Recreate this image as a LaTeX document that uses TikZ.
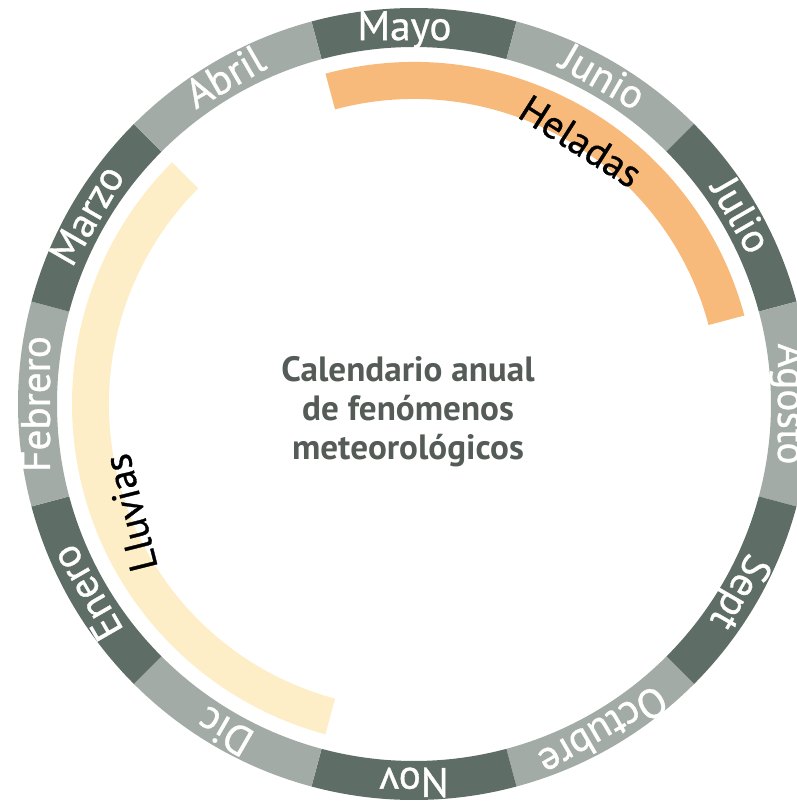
\documentclass[tikz,border=0pt]{standalone}
\usepackage{fontspec}
\setmainfont{PT Sans}
\newfontfamily\monthfont[FakeBold=0.8]{PT Sans}
\definecolor{monthdark}{RGB}{95,109,103}
\definecolor{monthlight}{RGB}{163,171,167}
\definecolor{frost}{RGB}{247,186,122}
\definecolor{rain}{RGB}{253,238,200}
\definecolor{titlegray}{RGB}{85,92,88}
\begin{document}
\begin{tikzpicture}[x=0.02cm, y=0.02cm,
	dark/.style={fill=monthdark},
	light/.style={fill=monthlight},
	monthname/.style={text=white, anchor=base, font=\monthfont\fontsize{23.5}{23.5}\selectfont},
	bandname/.style={text=black, font=\monthfont\fontsize{22.5}{22.5}\selectfont}]
	\useasboundingbox (-414,-401) rectangle (382,404);
	% ring of months
	\fill[dark] (105:396) arc[start angle=105, end angle=75, radius=396] -- (75:357) arc[start angle=75, end angle=105, radius=357] -- cycle;
	\fill[light] (75:396) arc[start angle=75, end angle=45, radius=396] -- (45:357) arc[start angle=45, end angle=75, radius=357] -- cycle;
	\fill[dark] (45:396) arc[start angle=45, end angle=15, radius=396] -- (15:357) arc[start angle=15, end angle=45, radius=357] -- cycle;
	\fill[light] (15:396) arc[start angle=15, end angle=-15, radius=396] -- (-15:357) arc[start angle=-15, end angle=15, radius=357] -- cycle;
	\fill[dark] (-15:396) arc[start angle=-15, end angle=-45, radius=396] -- (-45:357) arc[start angle=-45, end angle=-15, radius=357] -- cycle;
	\fill[light] (-45:396) arc[start angle=-45, end angle=-75, radius=396] -- (-75:357) arc[start angle=-75, end angle=-45, radius=357] -- cycle;
	\fill[dark] (-75:396) arc[start angle=-75, end angle=-105, radius=396] -- (-105:357) arc[start angle=-105, end angle=-75, radius=357] -- cycle;
	\fill[light] (-105:396) arc[start angle=-105, end angle=-135, radius=396] -- (-135:357) arc[start angle=-135, end angle=-105, radius=357] -- cycle;
	\fill[dark] (-135:396) arc[start angle=-135, end angle=-165, radius=396] -- (-165:357) arc[start angle=-165, end angle=-135, radius=357] -- cycle;
	\fill[light] (-165:396) arc[start angle=-165, end angle=-195, radius=396] -- (-195:357) arc[start angle=-195, end angle=-165, radius=357] -- cycle;
	\fill[dark] (165:396) arc[start angle=165, end angle=135, radius=396] -- (135:357) arc[start angle=135, end angle=165, radius=357] -- cycle;
	\fill[light] (135:396) arc[start angle=135, end angle=105, radius=396] -- (105:357) arc[start angle=105, end angle=135, radius=357] -- cycle;
	\node[monthname, rotate=0] (mayo) at (91.5:364) {Mayo};
	\node[monthname, rotate=-30] (junio) at (60:364) {Junio};
	\node[monthname, rotate=-60] (julio) at (30:364) {Julio};
	\node[monthname, rotate=-90] (agosto) at (0:364) {Agosto};
	\node[monthname, rotate=-120] (sept) at (-30:364) {Sept};
	\node[monthname, rotate=-150] (octubre) at (-60:364) {Octubre};
	\node[monthname, rotate=-180] (nov) at (-90:364) {Nov};
	\node[monthname, rotate=-210] (dic) at (-120:364) {Dic};
	\node[monthname, rotate=-240] (enero) at (-150:364) {Enero};
	\node[monthname, rotate=90] (febrero) at (180:364) {Febrero};
	\node[monthname, rotate=60] (marzo) at (150:364) {Marzo};
	\node[monthname, rotate=30] (abril) at (120:364) {Abril};
	% phenomena
	\fill[frost] (105:342) arc[start angle=105, end angle=15, radius=342] -- (15:305) arc[start angle=15, end angle=105, radius=305] -- cycle;
	\fill[rain] (135:342) arc[start angle=135, end angle=255, radius=342] -- (255:305) arc[start angle=255, end angle=135, radius=305] -- cycle;
	\node[bandname, rotate=-32.4] (heladas) at (57.6:311) {Heladas};
	\node[bandname, rotate=104] (lluvias) at (201:304) {Lluvias};
	% title
	\node[align=center, text=titlegray, font=\bfseries\fontsize{20}{22.2}\selectfont] (titulo) at (-6,-8) {Calendario anual\\de fenómenos\\meteorológicos};
\end{tikzpicture}
\end{document}
